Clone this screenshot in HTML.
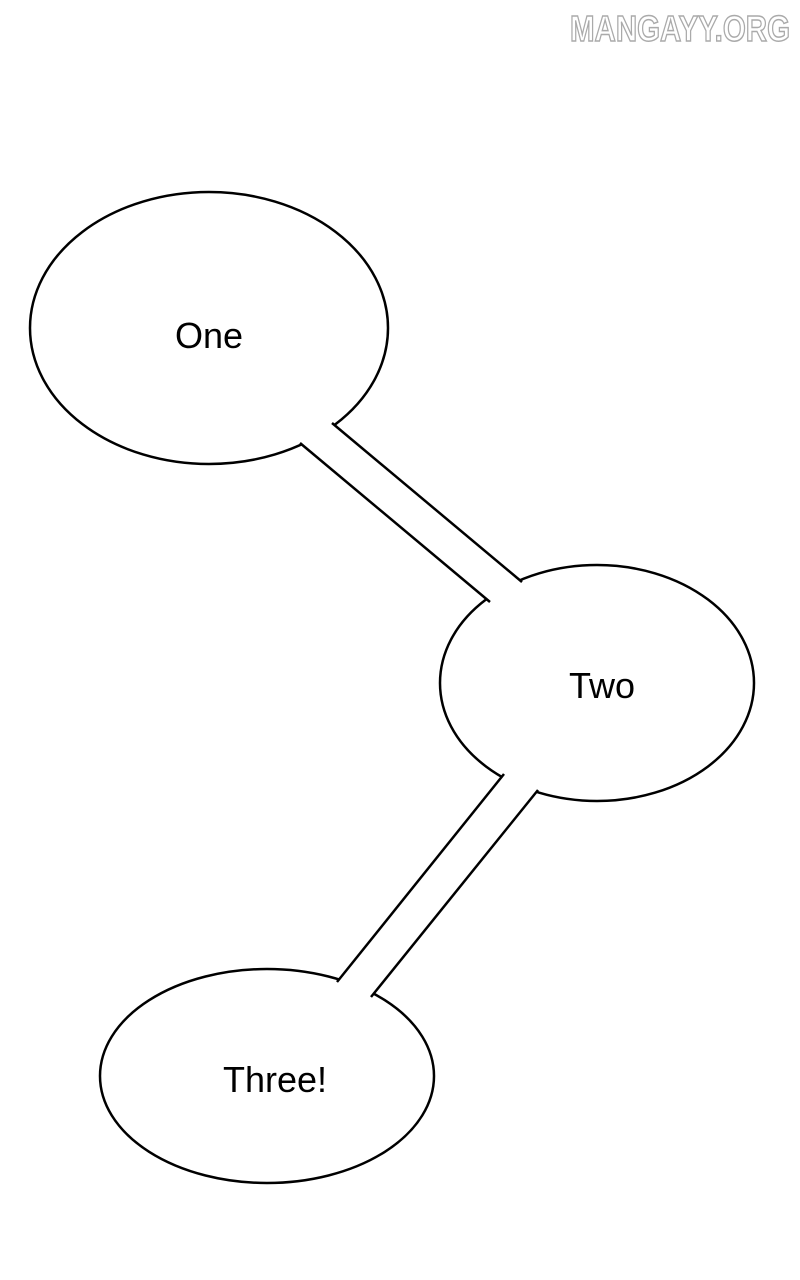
<!DOCTYPE html>
<html><head><meta charset="utf-8"><style>
html,body{margin:0;padding:0;background:#fff;width:800px;height:1280px;overflow:hidden}
</style></head><body>
<svg width="800" height="1280" viewBox="0 0 800 1280" xmlns="http://www.w3.org/2000/svg">
<rect width="800" height="1280" fill="#fff"/>
<text x="570" y="41" font-family="Liberation Sans, sans-serif" font-weight="bold" font-size="36" fill="#fff" stroke="#aaa" stroke-width="1.5" textLength="220" lengthAdjust="spacingAndGlyphs">MANGAYY.ORG</text>
<g fill="#fff" stroke="#000" stroke-width="2.5">
<ellipse cx="209" cy="328" rx="179" ry="136"/>
<ellipse cx="597" cy="683" rx="157" ry="118"/>
<ellipse cx="267" cy="1076" rx="167" ry="107"/>
</g>
<polygon points="287,432 319,412 535,593 503,613" fill="#fff"/>
<polygon points="516,760 550,776 359,1011 325,996" fill="#fff"/>
<g stroke="#000" stroke-width="2.5" fill="none">
<line x1="300" y1="443" x2="490" y2="602"/>
<line x1="332" y1="423" x2="522" y2="582"/>
<line x1="504" y1="774" x2="337" y2="982"/>
<line x1="538" y1="790" x2="371" y2="997"/>
</g>
<g font-family="Liberation Sans, sans-serif" font-size="36" fill="#000" text-anchor="middle">
<text x="209" y="348">One</text>
<text x="602" y="698">Two</text>
<text x="275" y="1092">Three!</text>
</g>
</svg>
</body></html>
